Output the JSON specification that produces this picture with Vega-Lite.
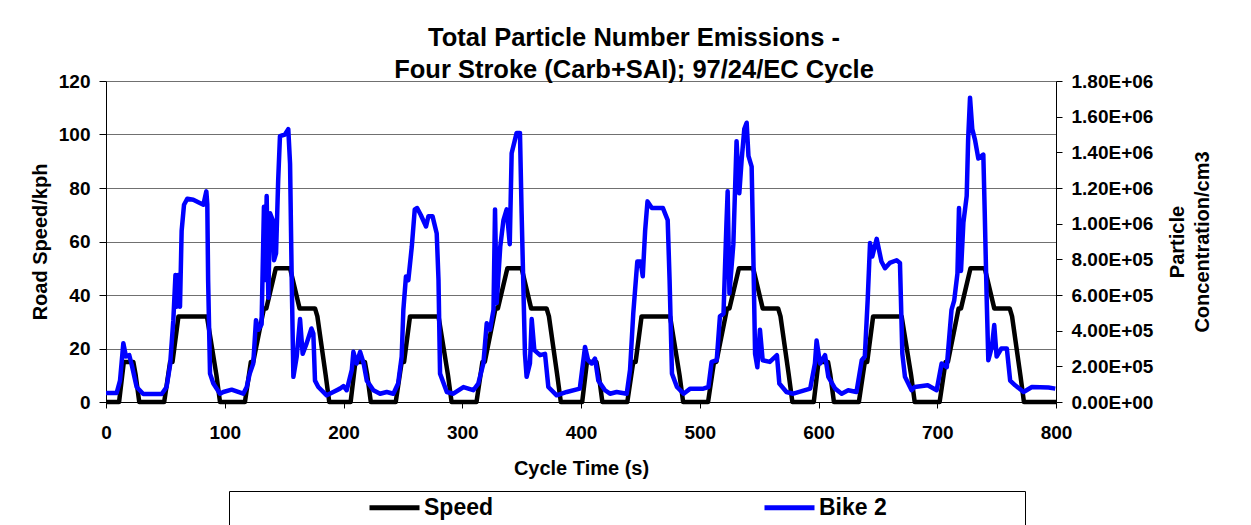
{
  "$schema": "https://vega.github.io/schema/vega-lite/v6.json",
  "width": 950,
  "height": 321,
  "autosize": {"type": "none"},
  "padding": {"left": 106, "top": 81, "right": 195, "bottom": 123},
  "background": "white",
  "title": {
    "text": ["Total Particle Number Emissions -", "Four Stroke (Carb+SAI); 97/24/EC Cycle"],
    "font": "Liberation Sans",
    "fontSize": 25.5,
    "fontWeight": "bold",
    "color": "black",
    "lineHeight": 32.6,
    "dx": 53,
    "offset": -12
  },
  "datasets": {
    "speed": [
      {"t": 0, "kph": 0}, {"t": 11, "kph": 0}, {"t": 15, "kph": 15}, {"t": 23, "kph": 15}, {"t": 25, "kph": 10}, {"t": 28, "kph": 0},
      {"t": 49, "kph": 0}, {"t": 54, "kph": 15}, {"t": 56, "kph": 15}, {"t": 61, "kph": 32}, {"t": 85, "kph": 32}, {"t": 93, "kph": 10}, {"t": 96, "kph": 0},
      {"t": 117, "kph": 0}, {"t": 122, "kph": 15}, {"t": 124, "kph": 15}, {"t": 133, "kph": 35}, {"t": 135, "kph": 35}, {"t": 143, "kph": 50}, {"t": 155, "kph": 50},
      {"t": 163, "kph": 35}, {"t": 176, "kph": 35}, {"t": 178, "kph": 32}, {"t": 185, "kph": 10}, {"t": 188, "kph": 0},
      {"t": 195, "kph": 0}, {"t": 206, "kph": 0}, {"t": 210, "kph": 15}, {"t": 218, "kph": 15}, {"t": 220, "kph": 10}, {"t": 223, "kph": 0},
      {"t": 244, "kph": 0}, {"t": 249, "kph": 15}, {"t": 251, "kph": 15}, {"t": 256, "kph": 32}, {"t": 280, "kph": 32}, {"t": 288, "kph": 10}, {"t": 291, "kph": 0},
      {"t": 312, "kph": 0}, {"t": 317, "kph": 15}, {"t": 319, "kph": 15}, {"t": 328, "kph": 35}, {"t": 330, "kph": 35}, {"t": 338, "kph": 50}, {"t": 350, "kph": 50},
      {"t": 358, "kph": 35}, {"t": 371, "kph": 35}, {"t": 373, "kph": 32}, {"t": 380, "kph": 10}, {"t": 383, "kph": 0},
      {"t": 390, "kph": 0}, {"t": 401, "kph": 0}, {"t": 405, "kph": 15}, {"t": 413, "kph": 15}, {"t": 415, "kph": 10}, {"t": 418, "kph": 0},
      {"t": 439, "kph": 0}, {"t": 444, "kph": 15}, {"t": 446, "kph": 15}, {"t": 451, "kph": 32}, {"t": 475, "kph": 32}, {"t": 483, "kph": 10}, {"t": 486, "kph": 0},
      {"t": 507, "kph": 0}, {"t": 512, "kph": 15}, {"t": 514, "kph": 15}, {"t": 523, "kph": 35}, {"t": 525, "kph": 35}, {"t": 533, "kph": 50}, {"t": 545, "kph": 50},
      {"t": 553, "kph": 35}, {"t": 566, "kph": 35}, {"t": 568, "kph": 32}, {"t": 575, "kph": 10}, {"t": 578, "kph": 0},
      {"t": 585, "kph": 0}, {"t": 596, "kph": 0}, {"t": 600, "kph": 15}, {"t": 608, "kph": 15}, {"t": 610, "kph": 10}, {"t": 613, "kph": 0},
      {"t": 634, "kph": 0}, {"t": 639, "kph": 15}, {"t": 641, "kph": 15}, {"t": 646, "kph": 32}, {"t": 670, "kph": 32}, {"t": 678, "kph": 10}, {"t": 681, "kph": 0},
      {"t": 702, "kph": 0}, {"t": 707, "kph": 15}, {"t": 709, "kph": 15}, {"t": 718, "kph": 35}, {"t": 720, "kph": 35}, {"t": 728, "kph": 50}, {"t": 740, "kph": 50},
      {"t": 748, "kph": 35}, {"t": 761, "kph": 35}, {"t": 763, "kph": 32}, {"t": 770, "kph": 10}, {"t": 773, "kph": 0},
      {"t": 800, "kph": 0}
    ],
    "bike": [
      {"t": 0, "pn": 51000}, {"t": 9, "pn": 51000}, {"t": 11.8, "pn": 120000}, {"t": 14.6, "pn": 330000}, {"t": 16.8, "pn": 255000},
      {"t": 19.6, "pn": 262500}, {"t": 21.6, "pn": 210000}, {"t": 25.8, "pn": 84000}, {"t": 31.4, "pn": 45000}, {"t": 46.9, "pn": 45000},
      {"t": 51, "pn": 84000}, {"t": 54, "pn": 210000}, {"t": 56.7, "pn": 459000}, {"t": 58.5, "pn": 712500}, {"t": 59.6, "pn": 534000},
      {"t": 60.7, "pn": 712500}, {"t": 62.3, "pn": 534000}, {"t": 63.7, "pn": 960000}, {"t": 65.7, "pn": 1106250}, {"t": 68.5, "pn": 1140000},
      {"t": 73.5, "pn": 1134000}, {"t": 79, "pn": 1116000}, {"t": 82, "pn": 1106250}, {"t": 84.5, "pn": 1181250}, {"t": 85.3, "pn": 1110000},
      {"t": 86, "pn": 684000}, {"t": 87.6, "pn": 159000}, {"t": 90.4, "pn": 103500}, {"t": 96, "pn": 46500}, {"t": 98.8, "pn": 56250},
      {"t": 105.8, "pn": 69000}, {"t": 115.6, "pn": 46500}, {"t": 118.5, "pn": 84000}, {"t": 121, "pn": 159000}, {"t": 124, "pn": 216000},
      {"t": 126.3, "pn": 459000}, {"t": 128.3, "pn": 405000}, {"t": 131, "pn": 435000}, {"t": 133, "pn": 1095000}, {"t": 133.9, "pn": 684000},
      {"t": 135.3, "pn": 1155000}, {"t": 136.7, "pn": 585000}, {"t": 138.1, "pn": 1059000}, {"t": 140.4, "pn": 1020000}, {"t": 141.5, "pn": 795000},
      {"t": 143.2, "pn": 834000}, {"t": 145, "pn": 1245000}, {"t": 146.5, "pn": 1491000}, {"t": 150.7, "pn": 1500000}, {"t": 153.5, "pn": 1530000},
      {"t": 155, "pn": 1335000}, {"t": 156.4, "pn": 684000}, {"t": 157.8, "pn": 141000}, {"t": 160.6, "pn": 255000}, {"t": 163.4, "pn": 465000},
      {"t": 165.6, "pn": 270000}, {"t": 169, "pn": 330000}, {"t": 173, "pn": 412500}, {"t": 174.6, "pn": 384000}, {"t": 176, "pn": 120000},
      {"t": 178.8, "pn": 84000}, {"t": 185.8, "pn": 37500}, {"t": 191.4, "pn": 56250}, {"t": 197, "pn": 75000}, {"t": 200, "pn": 88500},
      {"t": 202.7, "pn": 66000}, {"t": 207, "pn": 180000}, {"t": 208.3, "pn": 281250}, {"t": 211, "pn": 216000}, {"t": 214, "pn": 281250},
      {"t": 217, "pn": 216000}, {"t": 219.6, "pn": 120000}, {"t": 225.2, "pn": 66000}, {"t": 230.8, "pn": 46500}, {"t": 236.4, "pn": 56250},
      {"t": 242, "pn": 46500}, {"t": 246, "pn": 103500}, {"t": 249, "pn": 255000}, {"t": 250.4, "pn": 516000}, {"t": 252.6, "pn": 703500},
      {"t": 254.6, "pn": 684000}, {"t": 257.5, "pn": 870000}, {"t": 260, "pn": 1080000}, {"t": 262, "pn": 1087500}, {"t": 265, "pn": 1050000},
      {"t": 269.5, "pn": 984000}, {"t": 271.5, "pn": 1041000}, {"t": 275, "pn": 1041000}, {"t": 278.5, "pn": 945000}, {"t": 280, "pn": 684000},
      {"t": 281.3, "pn": 159000}, {"t": 287, "pn": 56250}, {"t": 292.5, "pn": 46500}, {"t": 301, "pn": 84000}, {"t": 309.3, "pn": 66000},
      {"t": 313.5, "pn": 103500}, {"t": 317.8, "pn": 216000}, {"t": 320.6, "pn": 441000}, {"t": 323.4, "pn": 405000}, {"t": 326.3, "pn": 516000},
      {"t": 327.6, "pn": 1080000}, {"t": 329, "pn": 555000}, {"t": 332, "pn": 870000}, {"t": 334.7, "pn": 1020000}, {"t": 337.4, "pn": 1080000},
      {"t": 340, "pn": 885000}, {"t": 341.6, "pn": 1395000}, {"t": 345.8, "pn": 1509000}, {"t": 348.6, "pn": 1509000}, {"t": 350, "pn": 1059000},
      {"t": 352.8, "pn": 270000}, {"t": 354.2, "pn": 141000}, {"t": 357, "pn": 216000}, {"t": 358.5, "pn": 465000}, {"t": 360.7, "pn": 291000},
      {"t": 365.5, "pn": 262500}, {"t": 369.7, "pn": 270000}, {"t": 372.5, "pn": 84000}, {"t": 379.5, "pn": 37500}, {"t": 388, "pn": 56250},
      {"t": 399, "pn": 75000}, {"t": 403.4, "pn": 309000}, {"t": 406, "pn": 234000}, {"t": 409, "pn": 216000}, {"t": 411.8, "pn": 243750},
      {"t": 414.6, "pn": 120000}, {"t": 420.2, "pn": 66000}, {"t": 424.4, "pn": 46500}, {"t": 430, "pn": 56250}, {"t": 438.5, "pn": 46500},
      {"t": 441.3, "pn": 180000}, {"t": 444, "pn": 495000}, {"t": 447.4, "pn": 787500}, {"t": 450.2, "pn": 787500}, {"t": 452, "pn": 705000},
      {"t": 454, "pn": 960000}, {"t": 456, "pn": 1125000}, {"t": 459.7, "pn": 1087500}, {"t": 469, "pn": 1087500}, {"t": 473, "pn": 1020000},
      {"t": 474.6, "pn": 684000}, {"t": 476.6, "pn": 159000}, {"t": 480.8, "pn": 84000}, {"t": 486.4, "pn": 46500}, {"t": 492, "pn": 75000},
      {"t": 503, "pn": 75000}, {"t": 507.3, "pn": 84000}, {"t": 510, "pn": 225000}, {"t": 514.3, "pn": 234000}, {"t": 517, "pn": 480000},
      {"t": 520, "pn": 495000}, {"t": 522.5, "pn": 1005000}, {"t": 523.5, "pn": 1181250}, {"t": 525, "pn": 609000}, {"t": 528.3, "pn": 885000},
      {"t": 531, "pn": 1462500}, {"t": 533.3, "pn": 1170000}, {"t": 535.3, "pn": 1359000}, {"t": 537.5, "pn": 1530000}, {"t": 539.5, "pn": 1566000},
      {"t": 541, "pn": 1380000}, {"t": 543.7, "pn": 1320000}, {"t": 545, "pn": 870000}, {"t": 546.6, "pn": 270000}, {"t": 548.5, "pn": 195000},
      {"t": 550.7, "pn": 405000}, {"t": 553, "pn": 234000}, {"t": 559, "pn": 225000}, {"t": 565, "pn": 262500}, {"t": 567, "pn": 103500},
      {"t": 573, "pn": 56250}, {"t": 578.8, "pn": 46500}, {"t": 593, "pn": 75000}, {"t": 597, "pn": 216000}, {"t": 598.4, "pn": 345000},
      {"t": 601.3, "pn": 216000}, {"t": 605.5, "pn": 262500}, {"t": 608.3, "pn": 141000}, {"t": 614, "pn": 75000}, {"t": 619.5, "pn": 46500},
      {"t": 625, "pn": 66000}, {"t": 632, "pn": 56250}, {"t": 636.4, "pn": 234000}, {"t": 639, "pn": 255000}, {"t": 641.4, "pn": 570000},
      {"t": 643.4, "pn": 891000}, {"t": 645.3, "pn": 816000}, {"t": 649, "pn": 915000}, {"t": 653, "pn": 787500}, {"t": 656, "pn": 750000},
      {"t": 660, "pn": 780000}, {"t": 665.8, "pn": 795000}, {"t": 668.6, "pn": 780000}, {"t": 670.6, "pn": 270000}, {"t": 672.8, "pn": 141000},
      {"t": 678.4, "pn": 66000}, {"t": 681, "pn": 84000}, {"t": 692, "pn": 93750}, {"t": 699.5, "pn": 66000}, {"t": 703.7, "pn": 216000},
      {"t": 708, "pn": 195000}, {"t": 712, "pn": 516000}, {"t": 714.3, "pn": 570000}, {"t": 717, "pn": 720000}, {"t": 718.3, "pn": 1087500},
      {"t": 720, "pn": 735000}, {"t": 722, "pn": 1005000}, {"t": 724.8, "pn": 1155000}, {"t": 726, "pn": 1470000}, {"t": 727.6, "pn": 1706250},
      {"t": 729.5, "pn": 1530000}, {"t": 731.8, "pn": 1470000}, {"t": 734.6, "pn": 1365000}, {"t": 738.8, "pn": 1387500}, {"t": 740, "pn": 1059000},
      {"t": 741.6, "pn": 585000}, {"t": 743, "pn": 234000}, {"t": 746, "pn": 309000}, {"t": 748, "pn": 431250}, {"t": 750, "pn": 255000},
      {"t": 754, "pn": 300000}, {"t": 758.6, "pn": 300000}, {"t": 761.4, "pn": 120000}, {"t": 765.6, "pn": 93750}, {"t": 772.7, "pn": 56250},
      {"t": 779.7, "pn": 84000}, {"t": 793.7, "pn": 81000}, {"t": 799.4, "pn": 75000}
    ]
  },
  "layer": [
    {
      "data": {"name": "speed"},
      "mark": {"type": "line", "strokeWidth": 4.5, "strokeJoin": "round"},
      "encoding": {
        "x": {
          "field": "t", "type": "quantitative",
          "scale": {"domain": [0, 800], "nice": false},
          "axis": {"title": "Cycle Time (s)", "values": [0, 100, 200, 300, 400, 500, 600, 700, 800], "grid": false,
                   "labelFlush": false, "tickSize": 6, "labelPadding": 15, "titlePadding": 16}
        },
        "y": {
          "field": "kph", "type": "quantitative",
          "scale": {"domain": [0, 120], "nice": false},
          "axis": {"title": "Road Speed/kph", "values": [0, 20, 40, 60, 80, 100, 120], "grid": true, "labelFlush": false,
                   "gridColor": "#707070", "gridWidth": 1, "gridOpacity": 1, "tickSize": 7, "labelPadding": 9, "titlePadding": 8}
        },
        "color": {
          "datum": "Speed", "type": "nominal",
          "scale": {"domain": ["Speed", "Bike 2"], "range": ["#000000", "#0000ff"]},
          "legend": {
            "orient": "none", "legendX": 123, "legendY": 410, "direction": "horizontal",
            "title": " ", "titleOrient": "right", "titleFontSize": 6, "titlePadding": 133,
            "strokeColor": "black", "fillColor": "white", "padding": 5,
            "symbolType": "stroke", "symbolSize": 2500, "symbolStrokeWidth": 5,
            "clipHeight": 23, "symbolOffset": 133, "labelOffset": 2, "columnPadding": 135,
            "labelFont": "Liberation Sans", "labelFontWeight": "bold", "labelFontSize": 23, "labelColor": "black"
          }
        }
      }
    },
    {
      "data": {"name": "bike"},
      "mark": {"type": "line", "strokeWidth": 4.5, "strokeJoin": "round"},
      "encoding": {
        "x": {"field": "t", "type": "quantitative", "scale": {"domain": [0, 800], "nice": false}},
        "y": {
          "field": "pn", "type": "quantitative",
          "scale": {"domain": [0, 1800000], "nice": false},
          "axis": {
            "orient": "right", "grid": false, "labelFlush": false,
            "title": ["Particle", "Concentration/cm3"], "titleAngle": 270, "titleBaseline": "top", "titleLineHeight": 25,
            "values": [0, 200000, 400000, 600000, 800000, 1000000, 1200000, 1400000, 1600000, 1800000],
            "labelExpr": "datum.value == 0 ? '0.00E+00' : format(datum.value / pow(10, floor(log(datum.value) / LN10 + 1e-9)), '.2f') + 'E+' + (floor(log(datum.value) / LN10 + 1e-9) < 10 ? '0' : '') + floor(log(datum.value) / LN10 + 1e-9)",
            "tickSize": 6, "labelPadding": 9, "titlePadding": -10
          }
        },
        "color": {"datum": "Bike 2", "type": "nominal"}
      }
    }
  ],
  "resolve": {"scale": {"y": "independent"}},
  "config": {
    "view": {"stroke": null},
    "axis": {
      "labelFont": "Liberation Sans", "labelFontWeight": "bold", "labelFontSize": 19, "labelColor": "black",
      "titleFont": "Liberation Sans", "titleFontWeight": "bold", "titleFontSize": 20, "titleColor": "black",
      "domainColor": "black", "domainWidth": 1, "tickColor": "black", "tickWidth": 1
    }
  }
}
